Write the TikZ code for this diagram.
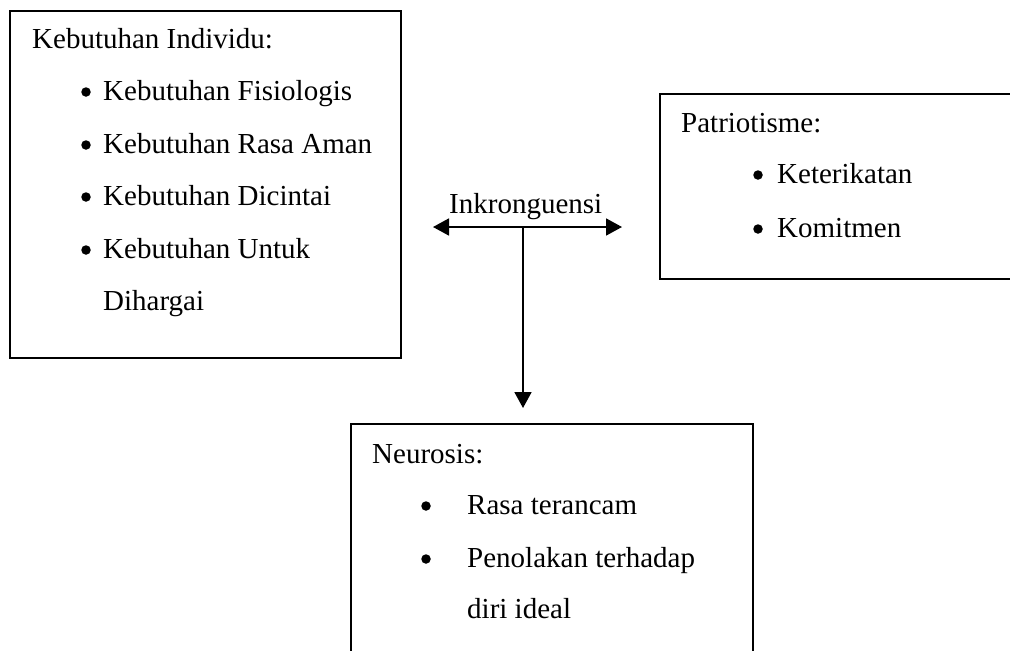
\documentclass[tikz,border=0pt]{standalone}
\usepackage{fontspec}
\setmainfont{Liberation Serif}
\usetikzlibrary{arrows.meta}

\begin{document}
\begin{tikzpicture}[x={(1pt,0)}, y={(0,-1pt)},
  frame/.style={draw=black, line width=1.7pt},
  link/.style={draw=black, line width=1.8pt, -{Triangle[length=16pt, width=17pt]}},
  txt/.style={anchor=base west, inner sep=0pt, font=\fontsize{29}{34}\selectfont},
  dot/.style={circle, fill=black, inner sep=0pt, minimum size=9.5pt}]
  \useasboundingbox (0,0) rectangle (1010,651);

  % Left box: individual needs
  \node[frame, minimum width=391pt, minimum height=347pt, inner sep=0pt] (needs) at (205.5,184.5) {};
  \node[txt] (needsT) at (32,48) {Kebutuhan Individu:};
  \node[dot] (nb1) at (86,92) {};
  \node[txt] (n1) at (103,100) {Kebutuhan Fisiologis};
  \node[dot] (nb2) at (86,145) {};
  \node[txt] (n2) at (103,153) {Kebutuhan Rasa Aman};
  \node[dot] (nb3) at (86,197) {};
  \node[txt] (n3) at (103,205) {Kebutuhan Dicintai};
  \node[dot] (nb4) at (86,250) {};
  \node[txt] (n4) at (103,258) {Kebutuhan Untuk};
  \node[txt] (n5) at (103,310) {Dihargai};

  % Right box: patriotism (runs past the right edge)
  \draw[frame] (1012,94) -| (660,279) -- (1012,279);
  \node[txt] (patT) at (681,132) {Patriotisme:};
  \node[dot] (pb1) at (758,175) {};
  \node[txt] (p1) at (777,183) {Keterikatan};
  \node[dot] (pb2) at (758,229) {};
  \node[txt] (p2) at (777,237) {Komitmen};

  % Bottom box: neurosis (runs past the bottom edge)
  \draw[frame] (351,653) |- (753,424) -- (753,653);
  \node[txt] (neuT) at (372,463) {Neurosis:};
  \node[dot] (rb1) at (426,506) {};
  \node[txt] (r1) at (467,514) {Rasa terancam};
  \node[dot] (rb2) at (426,559) {};
  \node[txt] (r2) at (467,567) {Penolakan terhadap};
  \node[txt] (r3) at (467,618) {diri ideal};

  % Incongruence connectors
  \coordinate (hub) at (523,227);
  \coordinate (tipL) at (433,227);
  \coordinate (tipR) at (622,227);
  \coordinate (tipD) at (523,408);
  \node[txt] (inc) at (449,213) {Inkronguensi};
  \draw[link] (hub) -- (tipL);
  \draw[link] (hub) -- (tipR);
  \draw[link] (hub) -- (tipD);
\end{tikzpicture}
\end{document}
